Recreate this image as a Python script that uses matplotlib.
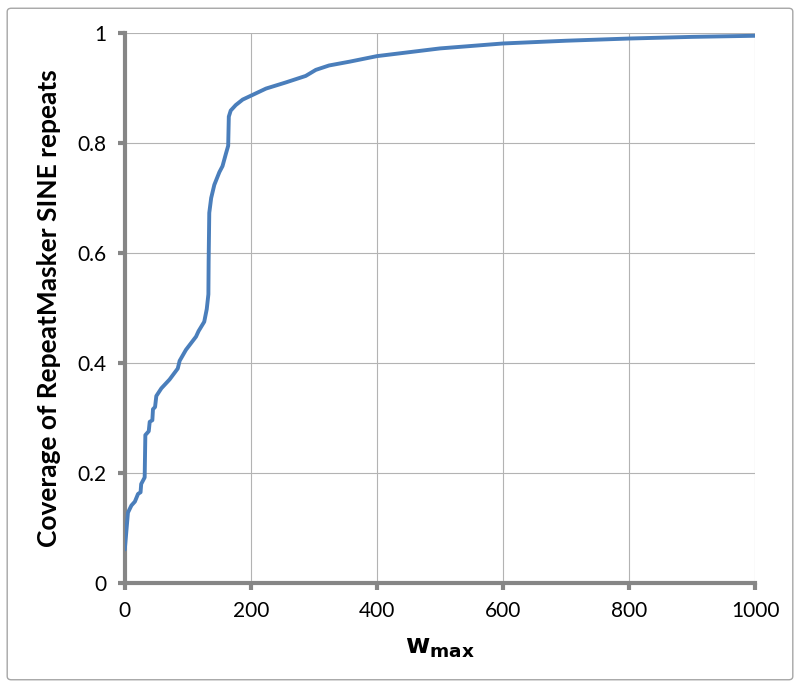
#!/usr/bin/env python3

import numpy as np
import matplotlib
matplotlib.use('Agg')

import matplotlib.pyplot as plt
from matplotlib.patches import FancyBboxPatch

# values
w_max = [0, 5, 10.5, 16, 21, 25, 26, 31.5, 32.6, 38, 39.5, 43.7, 44.7, 48, 50,
         58, 71, 84, 87, 97, 113, 117, 126, 130, 132.6, 133, 134, 137, 142,
         150, 155, 160.5, 164, 165, 168, 176, 187, 200, 224, 255, 287, 303,
         324, 357, 400, 500, 600, 700, 800, 900, 1000]
coverage = [0.061, 0.128, 0.141, 0.148, 0.162, 0.165, 0.180, 0.192, 0.269,
            0.276, 0.293, 0.296, 0.316, 0.320, 0.340, 0.354, 0.370, 0.390,
            0.404, 0.424, 0.448, 0.458, 0.475, 0.498, 0.525, 0.586, 0.673,
            0.700, 0.724, 0.747, 0.758, 0.781, 0.795, 0.848, 0.859, 0.869,
            0.879, 0.886, 0.899, 0.910, 0.922, 0.933, 0.941, 0.948, 0.958,
            0.972, 0.981, 0.986, 0.990, 0.993, 0.995]

x_ticks = [0, 200, 400, 600, 800, 1000]
y_ticks = [0, 0.2, 0.4, 0.6, 0.8, 1.0]
y_tick_labels = ['0', '0.2', '0.4', '0.6', '0.8', '1']


def main():
    plt.rcParams['font.family'] = ['Lato', 'DejaVu Sans']

    fig = plt.figure(figsize=(8, 6.88), dpi=100)
    ax = fig.add_axes([0.156, 0.1526, 0.788, 0.7994])

    # light outer frame like the spreadsheet chart area
    frame = FancyBboxPatch((0.009, 0.012), 0.982, 0.976,
                           boxstyle='round,pad=0,rounding_size=0.005',
                           transform=fig.transFigure, fill=False,
                           edgecolor='#a6a6a6', linewidth=1.0)
    fig.patches.append(frame)

    ax.plot(w_max, coverage, color='#4a7ebb', linewidth=2.8,
            solid_joinstyle='round', solid_capstyle='round', zorder=3)

    ax.set_xlim(0, 1000)
    ax.set_ylim(0, 1)
    ax.set_xticks(x_ticks)
    ax.set_yticks(y_ticks)
    ax.set_yticklabels(y_tick_labels)

    ax.grid(True, color='#b3b3b3', linewidth=0.8)
    ax.set_axisbelow(True)

    for side in ('top', 'right'):
        ax.spines[side].set_visible(False)
    for side in ('left', 'bottom'):
        ax.spines[side].set_color('#868686')
        ax.spines[side].set_linewidth(3.0)

    ax.tick_params(axis='both', direction='out', length=5, width=3.0,
                   color='#868686', labelsize=15, labelcolor='black', pad=8)

    ax.set_xlabel(r'$\mathbf{w}_{\mathbf{max}}$', fontsize=19, labelpad=10)
    ax.set_ylabel('Coverage of RepeatMasker SINE repeats', fontsize=19,
                  fontweight='bold', labelpad=12)

    plt.savefig('out.png', dpi=100)


if __name__ == "__main__":
    main()
